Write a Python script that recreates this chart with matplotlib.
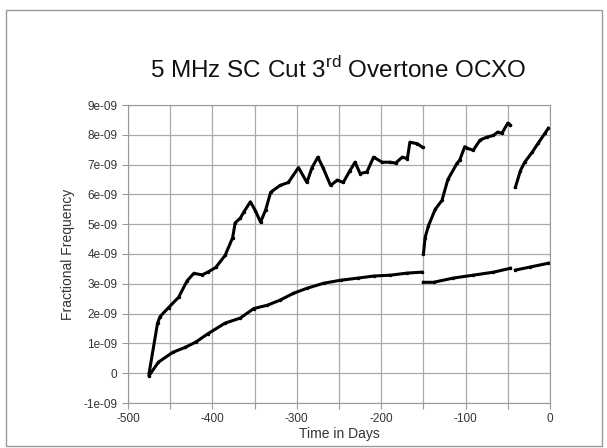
import numpy as np
import matplotlib.pyplot as plt
from matplotlib.patches import Rectangle

plt.rcParams['font.family'] = ['Liberation Sans', 'DejaVu Sans']
plt.rcParams['mathtext.fontset'] = 'custom'
plt.rcParams['mathtext.rm'] = 'Liberation Sans'

# upper trace (x in days, y in 1e-09), three runs separated by NaN
upper_days = [-475, -465, -462, -452, -440, -430, -422, -412, -405, -396, -385, -376, -373,
              -367, -363, -355, -349, -343, -337, -331, -320, -310, -298, -288, -282, -275,
              -269, -260, -252, -245, -237, -231, -225, -217, -209, -199, -189, -183, -175,
              -169, -166, -157, -151, np.nan,
              -150, -148, -144, -136, -128, -121, -110, -107, -101, -98, -91, -83, -75, -67,
              -62, -57, -50, -47, np.nan,
              -41, -35, -30, -21, -14, -6, -2]
upper_vals = [0.0, 1.68, 1.9, 2.2, 2.55, 3.1, 3.35, 3.3, 3.4, 3.55, 3.95, 4.55, 5.05,
              5.2, 5.4, 5.75, 5.45, 5.07, 5.47, 6.07, 6.3, 6.4, 6.9, 6.4, 6.9, 7.25,
              6.9, 6.3, 6.48, 6.4, 6.8, 7.08, 6.7, 6.75, 7.25, 7.08, 7.08, 7.05, 7.25,
              7.2, 7.75, 7.7, 7.58, np.nan,
              4.0, 4.55, 4.95, 5.5, 5.8, 6.5, 7.05, 7.15, 7.6, 7.55, 7.48, 7.82, 7.92, 7.98,
              8.09, 8.05, 8.39, 8.32, np.nan,
              6.24, 6.8, 7.08, 7.42, 7.72, 8.05, 8.22]

# lower trace
lower_days = [-475, -464, -447, -432, -420, -405, -385, -367, -351, -335, -320, -304, -288,
              -268, -248, -228, -209, -189, -169, -152, np.nan,
              -150, -138, -115, -91, -67, -47, np.nan,
              -41, -24, -2]
lower_vals = [-0.08, 0.37, 0.7, 0.87, 1.04, 1.33, 1.68, 1.85, 2.17, 2.28, 2.45, 2.68, 2.85,
              3.02, 3.12, 3.19, 3.26, 3.29, 3.36, 3.39, np.nan,
              3.05, 3.05, 3.19, 3.29, 3.39, 3.52, np.nan,
              3.46, 3.56, 3.69]

y_ticks = [-1, 0, 1, 2, 3, 4, 5, 6, 7, 8, 9]
x_ticks = [-500, -450, -400, -350, -300, -250, -200, -150, -100, -50, 0]


def tick_text(v):
    if v == 0:
        return '0'
    return '%de-09' % v


fig = plt.figure(figsize=(6.07, 4.48), dpi=100)
ax = fig.add_axes([128/607, 1-403/448, 422/607, 298/448])

ax.plot(upper_days, np.array(upper_vals)*1e-9, color='black', lw=2.2,
        marker='o', ms=1.5)
ax.plot(lower_days, np.array(lower_vals)*1e-9, color='black', lw=2.2,
        marker='o', ms=1.5)

ax.set_xlim(-500, 0)
ax.set_ylim(-1e-9, 9e-9)
ax.set_xticks(x_ticks)
ax.set_xticklabels([str(t) if t % 100 == 0 else '' for t in x_ticks])
ax.set_yticks([t*1e-9 for t in y_ticks])
ax.set_yticklabels([tick_text(t) for t in y_ticks])
ax.grid(True, color='#aaaaaa', lw=0.9)
ax.set_axisbelow(True)
for s in ax.spines.values():
    s.set_color('#999999')
ax.tick_params(colors='#999999', labelcolor='#333333', labelsize=8.5, length=4)

ax.set_xlabel('Time in Days', fontsize=10, color='#333333', labelpad=1)
ax.set_ylabel('Fractional Frequency', fontsize=10, color='#333333', labelpad=6)
fig.text(338/607, 1-70/448, r'5 MHz SC Cut 3$^{\rm rd}$ Overtone OCXO',
         fontsize=17.5, ha='center', va='center', color='#111111')

fig.patches.append(Rectangle((6/607, 2/448), 596/607, 436/448, transform=fig.transFigure,
                             fill=False, edgecolor='#999999', lw=1))

fig.savefig('out.png', dpi=100)
